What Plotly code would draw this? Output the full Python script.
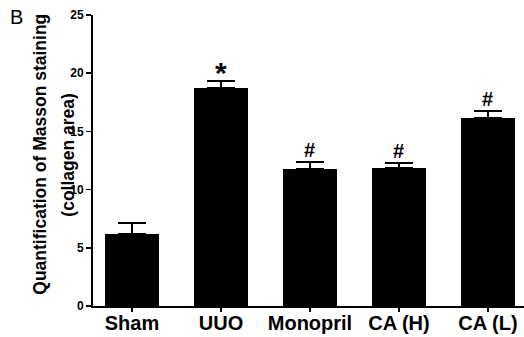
import plotly.graph_objects as go

categories = ["Sham", "UUO", "Monopril", "CA (H)", "CA (L)"]
means = [6.16, 18.7, 11.77, 11.88, 16.18]
errors = [1.0, 0.63, 0.6, 0.42, 0.6]
marks = ["", "*", "#", "#", "#"]
y_ticks = [0, 5, 10, 15, 20, 25]

FONT = "Liberation Sans, Arial, sans-serif"

fig = go.Figure()
fig.add_trace(go.Bar(
    x=list(range(len(categories))),
    y=means,
    width=0.6,
    marker=dict(color="black", line=dict(width=0)),
    error_y=dict(type="data", array=errors, arrayminus=[0] * len(errors),
                 symmetric=False, color="black", thickness=2, width=14),
    showlegend=False,
    hoverinfo="skip",
))

annotations = []
for i, (m, e, s) in enumerate(zip(means, errors, marks)):
    if not s:
        continue
    if s == "*":
        annotations.append(dict(x=i, y=m + e, xref="x", yref="y", text="<b>*</b>",
                                showarrow=False, yanchor="middle", yshift=9,
                                font=dict(family=FONT, size=30, color="black")))
    else:
        annotations.append(dict(x=i, y=m + e, xref="x", yref="y", text="<b>#</b>",
                                showarrow=False, yanchor="middle", yshift=12,
                                font=dict(family=FONT, size=20, color="black")))

annotations.append(dict(x=0, y=0.52, xref="paper", yref="paper", xshift=-53,
                        text="<b>Quantification of Masson staining</b>", textangle=-90,
                        showarrow=False, xanchor="center", yanchor="middle",
                        font=dict(family=FONT, size=17.5, color="black")))
annotations.append(dict(x=0, y=0.52, xref="paper", yref="paper", xshift=-25,
                        text="<b>(collagen area)</b>", textangle=-90,
                        showarrow=False, xanchor="center", yanchor="middle",
                        font=dict(family=FONT, size=17.5, color="black")))
annotations.append(dict(x=0, y=0.993, xref="paper", yref="paper", xshift=-77,
                        text="B", showarrow=False, xanchor="center", yanchor="middle",
                        font=dict(family=FONT, size=20, color="black")))

fig.update_layout(
    width=524, height=337,
    margin=dict(l=93, r=0, t=15, b=31, autoexpand=False),
    plot_bgcolor="white", paper_bgcolor="white",
    annotations=annotations,
    bargap=0,
)
fig.update_xaxes(
    range=[-0.438, 4.405],
    tickmode="array", tickvals=list(range(len(categories))),
    ticktext=["<b>%s</b>" % c for c in categories],
    showline=True, linecolor="black", linewidth=2,
    ticks="outside", ticklen=4, tickwidth=1.5, tickcolor="black",
    tickfont=dict(family=FONT, size=20, color="black"),
    ticklabelstandoff=-6,
    showgrid=False, zeroline=False, automargin=False,
)
fig.update_yaxes(
    range=[0, 25],
    tickmode="array", tickvals=y_ticks,
    ticktext=["<b>%d</b>" % v for v in y_ticks],
    showline=True, linecolor="black", linewidth=2,
    ticks="outside", ticklen=5, tickwidth=1.5, tickcolor="black",
    tickfont=dict(family=FONT, size=12, color="black"),
    showgrid=False, zeroline=False, automargin=False,
)

fig.write_html("out.html",
               config={"displayModeBar": False, "staticPlot": True},
               post_script="document.body.style.margin='0';document.body.style.overflow='hidden';")
